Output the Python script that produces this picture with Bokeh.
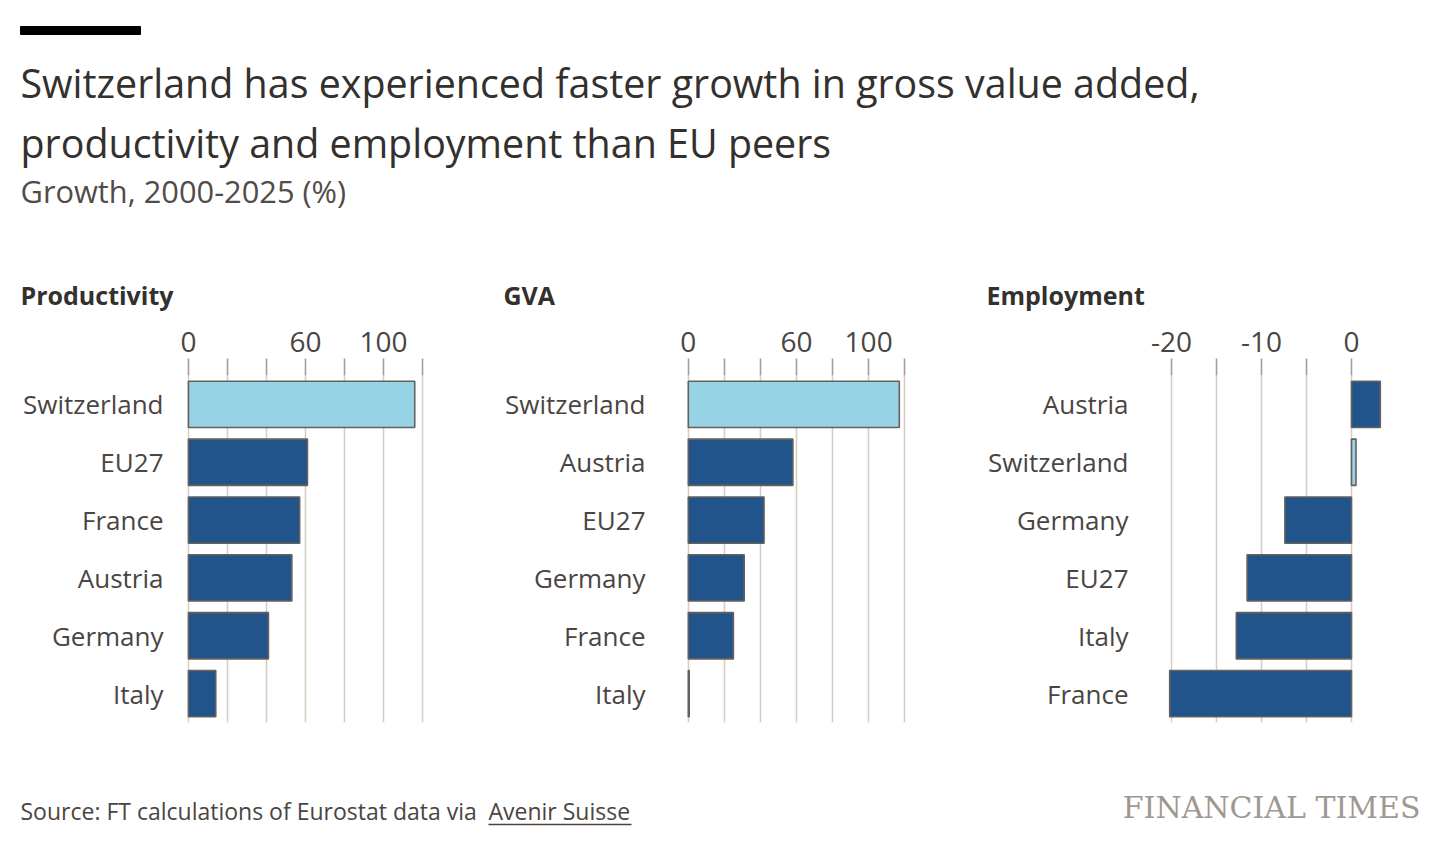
from bokeh.plotting import figure
from bokeh.layouts import column, row
from bokeh.models import Range1d, FactorRange, FixedTicker, ColumnDataSource
from bokeh.core.properties import value
from bokeh.embed import file_html
from bokeh.resources import INLINE

# ---------------- data ----------------
title_lines = ["Switzerland has experienced faster growth in gross value added,",
               "productivity and employment than EU peers"]
subtitle = "Growth, 2000-2025 (%)"
source_text = "Source: FT calculations of Eurostat data via "
source_link = "Avenir Suisse"
brand = "FINANCIAL TIMES"

panel_titles = ["Productivity", "GVA", "Employment"]

prod_countries = ["Switzerland", "EU27", "France", "Austria", "Germany", "Italy"]
prod_values = [116, 61, 57, 53, 41, 14]

gva_countries = ["Switzerland", "Austria", "EU27", "Germany", "France", "Italy"]
gva_values = [117, 58, 42, 31, 25, 0.5]

emp_countries = ["Austria", "Switzerland", "Germany", "EU27", "Italy", "France"]
emp_values = [3.2, 0.5, -7.4, -11.6, -12.8, -20.2]

prod_ticks = [0, 20, 40, 60, 80, 100, 120]
prod_tick_labels = {0: "0", 20: "", 40: "", 60: "60", 80: "", 100: "100", 120: ""}
gva_ticks = [0, 20, 40, 60, 80, 100, 120]
gva_tick_labels = {0: "0", 20: "", 40: "", 60: "60", 80: "", 100: "100", 120: ""}
emp_ticks = [-20, -15, -10, -5, 0]
emp_tick_labels = {-20: "-20", -15: "", -10: "-10", -5: "", 0: "0"}

highlight = "Switzerland"

# ---------------- style ----------------
FONT = "Open Sans"
DARK = "#33302e"
MID = "#4a4542"
LIGHT_BLUE = "#96d3e4"
DARK_BLUE = "#20548b"
OUTLINE = "#66605c"
GRID = "#d9cec4"
TICK = "#a69e97"

W = 1436
HEADER_H = 318
PANEL_H = 424
FOOTER_H = 100


def blank(width, height):
    p = figure(width=width, height=height, x_range=Range1d(0, width),
               y_range=Range1d(height, 0), output_backend="svg",
               toolbar_location=None, min_border=0)
    p.axis.visible = False
    p.grid.visible = False
    p.outline_line_color = None
    p.background_fill_color = "white"
    p.border_fill_color = "white"
    return p


# ---------------- header ----------------
header = blank(W, HEADER_H)
header.quad(left=[20], right=[140], top=[26], bottom=[34], color="black")
header.text(x=[20, 20], y=[82, 142], text=title_lines, text_font=value(FONT),
            text_font_size="39.4px", text_color=DARK, text_baseline="middle")
header.text(x=[20], y=[190], text=[subtitle], text_font=value(FONT),
            text_font_size="30.8px", text_color="#524c48", text_baseline="middle")
header.text(x=[20, 503, 986], y=[294, 294, 294], text=panel_titles,
            text_font=value(FONT), text_font_size="25px", text_font_style="bold",
            text_color=DARK, text_baseline="middle")


# ---------------- panels ----------------
def panel(countries, values, ticks, tick_labels, x_start, x_end,
          width, left, right, standoff):
    factors = list(reversed(countries))
    colors = [LIGHT_BLUE if c == highlight else DARK_BLUE for c in countries]
    src = ColumnDataSource(dict(y=countries, right=values, color=colors))
    p = figure(width=width, height=PANEL_H, y_range=FactorRange(*factors, range_padding=0),
               x_range=Range1d(x_start, x_end), x_axis_location="above",
               output_backend="svg", toolbar_location=None,
               min_border_left=left, min_border_right=right,
               min_border_top=57, min_border_bottom=20)
    p.outline_line_color = None
    p.background_fill_color = "white"
    p.border_fill_color = "white"
    p.hbar(y="y", left=0, right="right", height=0.8, fill_color="color",
           line_color=OUTLINE, line_width=1.6, source=src)

    xa = p.xaxis[0]
    xa.ticker = FixedTicker(ticks=ticks)
    xa.major_label_overrides = tick_labels
    xa.axis_line_color = None
    xa.major_tick_in = 0
    xa.major_tick_out = 17
    xa.major_tick_line_color = TICK
    xa.major_tick_line_width = 1.6
    xa.minor_tick_line_color = None
    xa.major_label_standoff = 7
    xa.major_label_text_font = FONT
    xa.major_label_text_font_size = "28px"
    xa.major_label_text_color = MID

    ya = p.yaxis[0]
    ya.axis_line_color = None
    ya.major_tick_line_color = None
    ya.minor_tick_line_color = None
    ya.major_tick_out = 0
    ya.major_tick_in = 0
    ya.major_label_standoff = standoff
    ya.major_label_text_font = FONT
    ya.major_label_text_font_size = "26px"
    ya.major_label_text_color = MID

    p.xgrid.ticker = FixedTicker(ticks=ticks)
    p.xgrid.grid_line_color = GRID
    p.xgrid.grid_line_width = 1.6
    p.ygrid.grid_line_color = None
    return p


p1 = panel(prod_countries, prod_values, prod_ticks, prod_tick_labels,
           -1, 121, 491, 186, 67, 23)
p2 = panel(gva_countries, gva_values, gva_ticks, gva_tick_labels,
           -1, 121, 483, 195, 68, 41)
p3 = panel(emp_countries, emp_values, emp_ticks, emp_tick_labels,
           -21, 4, 462, 188, 49, 34)

# ---------------- footer ----------------
footer = blank(W, FOOTER_H)
footer.text(x=[20], y=[68], text=[source_text], text_font=value(FONT),
            text_font_size="23px", text_color=MID, text_baseline="middle")
footer.text(x=[488], y=[68], text=[source_link], text_font=value(FONT),
            text_font_size="23px", text_color=MID, text_baseline="middle")
footer.segment(x0=[488], x1=[631], y0=[82], y1=[82], line_color=MID, line_width=1.5)
footer.text(x=[1420], y=[65], text=[brand], text_font=value("DejaVu Serif"),
            text_font_size="30px", text_color="#a09890", text_align="right",
            text_baseline="middle")

layout = column(header, row(p1, p2, p3), footer)
open("out.html", "w").write(file_html(layout, INLINE))
